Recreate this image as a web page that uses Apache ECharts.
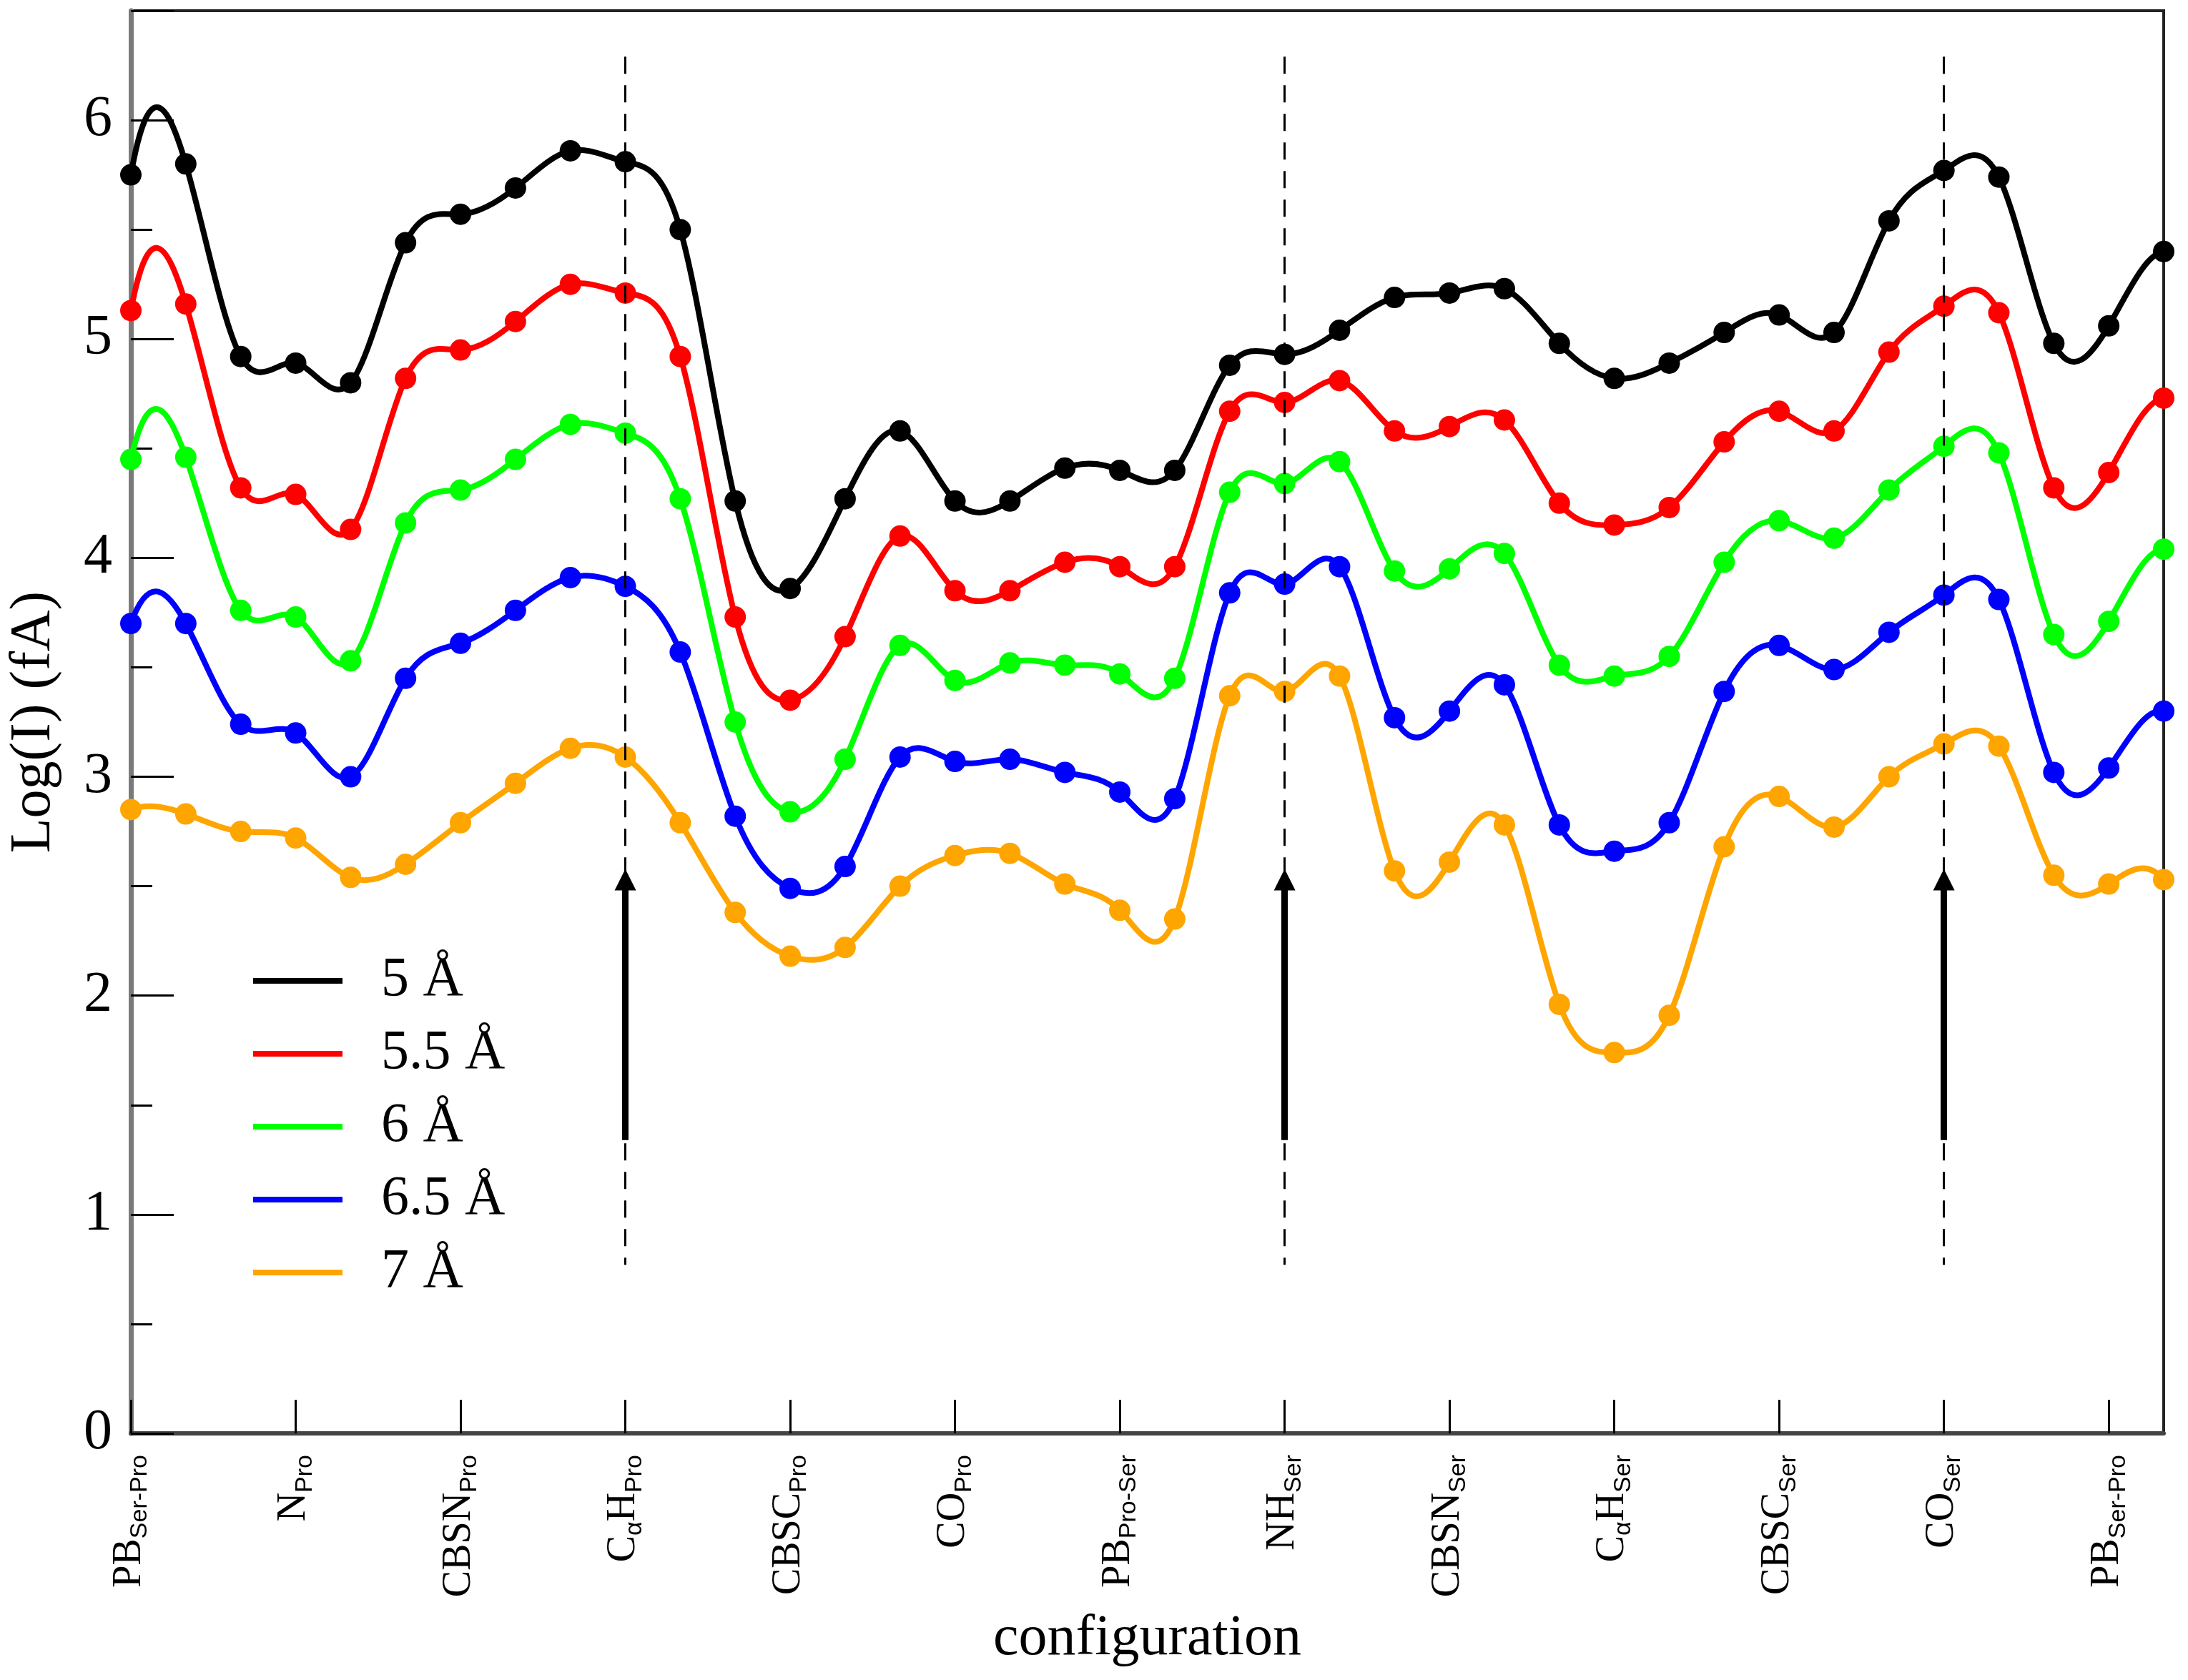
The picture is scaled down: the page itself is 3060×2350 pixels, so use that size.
<!DOCTYPE html>
<html>
<head>
<meta charset="utf-8">
<script src="https://cdn.jsdelivr.net/npm/echarts@6/dist/echarts.min.js"></script>
<style>
html, body { margin: 0; padding: 0; background: #ffffff; }
#chart { width: 3060px; height: 2350px; }
</style>
</head>
<body>
<div id="chart"></div>
<script>
// ---- data ----
const tickLabels = [
  '{m|PB}{s|Ser-Pro}', '{m|N}{s|Pro}', '{m|CBSN}{s|Pro}', '{m|C}{s|α}{m|H}{s|Pro}',
  '{m|CBSC}{s|Pro}', '{m|CO}{s|Pro}', '{m|PB}{s|Pro-Ser}', '{m|NH}{s|Ser}',
  '{m|CBSN}{s|Ser}', '{m|C}{s|α}{m|H}{s|Ser}', '{m|CBSC}{s|Ser}', '{m|CO}{s|Ser}',
  '{m|PB}{s|Ser-Pro}'
];
const seriesNames = ['5 Å', '5.5 Å', '6 Å', '6.5 Å', '7 Å'];
const values5 = [5.75, 5.80, 4.92, 4.89, 4.80, 5.44, 5.57, 5.69, 5.86, 5.81, 5.50, 4.26, 3.86, 4.27, 4.58, 4.26, 4.26, 4.41, 4.40, 4.40, 4.88, 4.93, 5.04, 5.19, 5.21, 5.23, 4.98, 4.82, 4.89, 5.03, 5.11, 5.03, 5.54, 5.77, 5.74, 4.98, 5.06, 5.40];
const values55 = [5.13, 5.16, 4.32, 4.29, 4.13, 4.82, 4.95, 5.08, 5.25, 5.21, 4.92, 3.73, 3.35, 3.64, 4.10, 3.85, 3.85, 3.98, 3.96, 3.96, 4.67, 4.71, 4.81, 4.58, 4.60, 4.63, 4.25, 4.15, 4.23, 4.53, 4.67, 4.58, 4.94, 5.15, 5.12, 4.32, 4.39, 4.73];
const values6 = [4.45, 4.46, 3.76, 3.73, 3.53, 4.16, 4.31, 4.45, 4.61, 4.57, 4.27, 3.25, 2.84, 3.08, 3.60, 3.44, 3.52, 3.51, 3.47, 3.45, 4.30, 4.34, 4.44, 3.94, 3.95, 4.02, 3.51, 3.46, 3.55, 3.98, 4.17, 4.09, 4.31, 4.51, 4.48, 3.65, 3.71, 4.04];
const values65 = [3.70, 3.70, 3.24, 3.20, 3.00, 3.45, 3.61, 3.76, 3.91, 3.87, 3.57, 2.82, 2.49, 2.59, 3.09, 3.07, 3.08, 3.02, 2.93, 2.90, 3.84, 3.88, 3.96, 3.27, 3.30, 3.42, 2.78, 2.66, 2.79, 3.39, 3.60, 3.49, 3.66, 3.83, 3.81, 3.02, 3.04, 3.30];
const values7 = [2.85, 2.83, 2.75, 2.72, 2.54, 2.60, 2.79, 2.97, 3.13, 3.09, 2.79, 2.38, 2.18, 2.22, 2.50, 2.64, 2.65, 2.51, 2.39, 2.35, 3.37, 3.39, 3.46, 2.57, 2.61, 2.78, 1.96, 1.74, 1.91, 2.68, 2.91, 2.77, 3.00, 3.15, 3.14, 2.55, 2.51, 2.53];
const allValues = [values5, values55, values6, values65, values7];
const colors = ['#000000', '#ff0000', '#00ff00', '#0000ff', '#ffa500'];
const markedTicks = [3, 7, 11];          // C_aH_Pro, NH_Ser, CO_Ser
const pointsPerTick = 3;
const guideTop = 6.29, guideBottom = 0.77, arrowTail = 1.34, arrowHead = 2.53;

// ---- helpers ----
const nPoints = values5.length;
const categories = Array.from({ length: nPoints }, (_, i) => String(i));
const serif = "'Liberation Serif', 'Times New Roman', serif";
const sans = "'Liberation Sans', Arial, sans-serif";

// cubic spline (not-a-knot ends) second derivatives, unit spacing: used only to draw the curve through the points
function splineM(y) {
  const n = y.length;
  const m = n - 2;
  const a = new Array(m).fill(1), b = new Array(m).fill(4), c = new Array(m).fill(1), d = new Array(m);
  for (let k = 0; k < m; k++) { const i = k + 1; d[k] = 6 * (y[i + 1] - 2 * y[i] + y[i - 1]); }
  b[0] = 6; c[0] = 0; a[0] = 0;
  b[m - 1] = 6; a[m - 1] = 0; c[m - 1] = 0;
  for (let k = 1; k < m; k++) {
    const w = a[k] / b[k - 1];
    b[k] -= w * c[k - 1];
    d[k] -= w * d[k - 1];
  }
  const Mi = new Array(m);
  Mi[m - 1] = d[m - 1] / b[m - 1];
  for (let k = m - 2; k >= 0; k--) Mi[k] = (d[k] - c[k] * Mi[k + 1]) / b[k];
  const M = new Array(n);
  for (let k = 0; k < m; k++) M[k + 1] = Mi[k];
  M[0] = 2 * M[1] - M[2];
  M[n - 1] = 2 * M[n - 2] - M[n - 3];
  return M;
}
const allM = allValues.map(splineM);

function makeCurveRenderer(s) {
  const y = allValues[s], M = allM[s];
  return function (params, api) {
    const i = params.dataIndex;
    if (i >= y.length - 1) return null;
    const slope0 = (y[i + 1] - y[i]) - (2 * M[i] + M[i + 1]) / 6;
    const slope1 = (y[i + 1] - y[i]) + (M[i] + 2 * M[i + 1]) / 6;
    const p0 = api.coord([i, y[i]]);
    const p1 = api.coord([i + 1, y[i + 1]]);
    const c1 = api.coord([i, y[i] + slope0 / 3]);
    const c2 = api.coord([i + 1, y[i + 1] - slope1 / 3]);
    const dx = p1[0] - p0[0];
    return {
      type: 'bezierCurve',
      shape: {
        x1: p0[0], y1: p0[1],
        cpx1: p0[0] + dx / 3, cpy1: c1[1],
        cpx2: p0[0] + 2 * dx / 3, cpy2: c2[1],
        x2: p1[0], y2: p1[1]
      },
      style: { stroke: colors[s], lineWidth: 8, fill: 'none', lineCap: 'round' },
      silent: true
    };
  };
}

const series = [];
allValues.forEach((vals, s) => {
  series.push({
    type: 'custom',
    renderItem: makeCurveRenderer(s),
    data: vals.map((v, i) => [i, v]),
    encode: { x: 0, y: 1 },
    clip: false,
    z: 2,
    silent: true
  });
});
const guideData = [];
markedTicks.forEach(t => {
  const xi = t * pointsPerTick;
  guideData.push([
    { coord: [xi, guideTop], symbol: 'none', lineStyle: { type: [24, 16], width: 3, color: '#000' } },
    { coord: [xi, guideBottom], symbol: 'none' }
  ]);
  guideData.push([
    { coord: [xi, arrowTail], symbol: 'none', lineStyle: { type: 'solid', width: 9, color: '#000', cap: 'butt' } },
    { coord: [xi, arrowHead], symbol: 'triangle', symbolSize: 30 }
  ]);
});
allValues.forEach((vals, s) => {
  const sr = {
    type: 'scatter',
    name: seriesNames[s],
    data: vals,
    symbol: 'circle',
    symbolSize: 30,
    itemStyle: { color: colors[s], opacity: 1 },
    z: 3,
    silent: true
  };
  if (s === 0) {
    sr.markLine = {
      silent: true,
      animation: false,
      symbol: ['none', 'none'],
      label: { show: false },
      emphasis: { disabled: true },
      data: guideData
    };
  }
  series.push(sr);
});

const chart = echarts.init(document.getElementById('chart'), null, { renderer: 'canvas' });
chart.setOption({
  animation: false,
  backgroundColor: '#ffffff',
  grid: {
    left: 180, right: 34, top: 15, bottom: 345,
    show: true, borderColor: '#222222', borderWidth: 4, backgroundColor: 'transparent'
  },
  legend: {
    data: seriesNames,
    orient: 'vertical',
    left: 349,
    top: 1328,
    icon: 'rect',
    itemWidth: 125,
    itemHeight: 8,
    itemGap: 24,
    selectedMode: false,
    textStyle: { fontFamily: serif, fontSize: 78, lineHeight: 60, color: '#000', padding: [0, 0, 0, 49] }
  },
  xAxis: {
    type: 'category',
    data: categories,
    boundaryGap: false,
    name: 'configuration',
    nameLocation: 'middle',
    nameGap: 248,
    nameTextStyle: { fontFamily: serif, fontSize: 80, color: '#000' },
    axisLine: { show: true, lineStyle: { color: '#444444', width: 6 } },
    axisTick: { show: true, inside: true, length: 47, interval: pointsPerTick - 1, lineStyle: { color: '#000', width: 3 } },
    axisLabel: {
      interval: pointsPerTick - 1,
      rotate: 90,
      margin: 30,
      formatter: (val, idx) => (idx % pointsPerTick === 0 ? tickLabels[idx / pointsPerTick] : ''),
      rich: {
        m: { fontFamily: serif, fontSize: 56, lineHeight: 60, verticalAlign: 'top', padding: [0, 0, 22, 0], color: '#000' },
        s: { fontFamily: sans, fontSize: 34, lineHeight: 42, verticalAlign: 'bottom', color: '#000' }
      }
    },
    splitLine: { show: false }
  },
  yAxis: [
    {
      type: 'value',
      min: 0, max: 6.5, interval: 1,
      name: 'Log(I) (fA)',
      nameLocation: 'middle',
      nameGap: 95,
      nameTextStyle: { fontFamily: serif, fontSize: 80, color: '#000' },
      axisLine: { show: true, lineStyle: { color: '#7a7a7a', width: 7 } },
      axisTick: { show: true, inside: true, length: 60, lineStyle: { color: '#000', width: 3 } },
      axisLabel: {
        margin: 26,
        fontFamily: serif, fontSize: 80, color: '#000',
        formatter: v => (Math.abs(v - Math.round(v)) < 1e-9 ? String(Math.round(v)) : '')
      },
      splitLine: { show: false }
    },
    {
      type: 'value',
      position: 'left',
      min: 0, max: 6.5, interval: 0.5,
      axisLine: { show: false },
      axisTick: { show: true, inside: true, length: 30, lineStyle: { color: '#000', width: 3 } },
      axisLabel: { show: false },
      splitLine: { show: false }
    }
  ],
  series: series
});
</script>
</body>
</html>
